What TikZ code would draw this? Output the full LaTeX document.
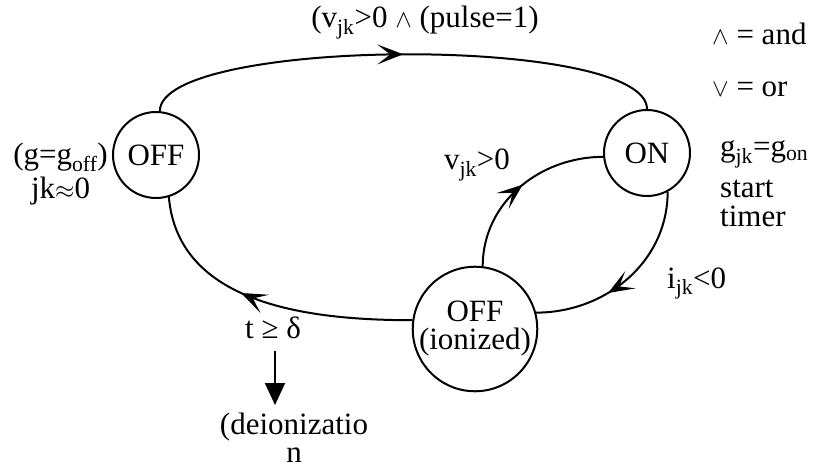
\documentclass[tikz,border=0pt]{standalone}
\usepackage{fontspec}
\setmainfont{Liberation Serif}
\usetikzlibrary{arrows.meta,positioning,decorations.markings}
\tikzset{
  state/.style={draw=black,circle,line width=2pt,inner sep=0pt,
    minimum size=86pt,align=center},
  lbl/.style={inner sep=0pt,align=center},
  trans/.style={line width=2pt,postaction={decorate},
    decoration={markings,mark=at position #1 with
      {\arrow{Stealth[length=26pt,width=20pt,inset=13pt]}}}},
  drop/.style={-{Triangle[length=22pt,width=20pt]},line width=2pt}
}

\begin{document}
\begin{tikzpicture}[x=1pt,y=1pt,font=\fontsize{31}{28}\selectfont]
\useasboundingbox (0,0) rectangle (823,-468);

\node[state] (off) at (156,-155) {OFF};
\node[state] (on) at (647,-153) {ON};
\node[state,minimum size=121pt] (ion) at (475,-329) {OFF\\(ionized)};

\node[lbl,anchor=base] (cond) at (425,-28) {(v\textsubscript{jk}>0 $\wedge$ (pulse=1)};
\node[lbl,anchor=base west] (andkey) at (712,-45) {$\wedge$ = and};
\node[lbl,anchor=base west] (orkey) at (712,-97) {$\vee$ = or};
\node[lbl,anchor=east,font=\fontsize{31}{34}\selectfont] (offkey) at ([xshift=-4pt,yshift=-19pt]off.west)
  {(g=g\textsubscript{off})\\jk$\approx$0};
\node[lbl,anchor=base] (vpos) at (477,-170) {v\textsubscript{jk}>0};
\node[lbl,anchor=base west] (onkey) at (720,-157) {g\textsubscript{jk}=g\textsubscript{on}};
\node[lbl,anchor=north west,align=left,font=\fontsize{31}{29}\selectfont] (timer) at (720,-180)
  {start\\timer};
\node[lbl,anchor=base west] (ineg) at (667,-288) {i\textsubscript{jk}<0};
\node[lbl,anchor=base] (tdelta) at (273,-338) {t ≥ δ};
\node[lbl,anchor=north] (deion) at (294,-413) {(deionizatio\\n};

\draw[trans=0.5] (off.85) to[out=90,in=90,looseness=0.39] (on.90);
\draw[trans=0.62] (on.-62) to[out=-90,in=0] (ion.15);
\draw[trans=0.52] (ion.83) to[out=90,in=180] (on.185);
\draw[trans=0.58] (ion.172) to[out=180,in=-85] (off.-73);
\draw[drop,shorten <=12pt,shorten >=8pt] ([xshift=2pt]tdelta.south)
  -- ([xshift=2pt]tdelta.south |- deion.north);
\end{tikzpicture}
\end{document}
